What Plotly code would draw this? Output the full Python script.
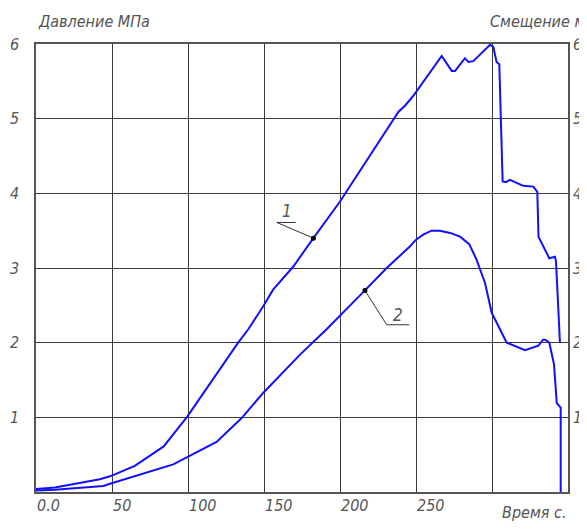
import plotly.graph_objects as go

# Curve 1 (pressure)
x1 = [0, 12.5, 42, 48.7, 65, 84, 99.5, 133, 139.7, 149.6, 156, 169.3, 182.5, 200, 238.4,
      243, 248, 266.9, 273.5, 275.7, 282.2, 284.4, 287.7, 298.7, 300.9, 303, 304.8, 305.7,
      307, 309.2, 311.8, 320.6, 327.2, 329.8, 330.6, 337.7, 341.4, 342.1, 344.7]
y1 = [0.04, 0.06, 0.17, 0.21, 0.35, 0.61, 1.01, 2.0, 2.18, 2.49, 2.71, 3.02, 3.40, 3.89, 5.09,
      5.18, 5.30, 5.84, 5.64, 5.64, 5.81, 5.76, 5.77, 5.99, 5.96, 5.76, 5.73, 5.03,
      4.16, 4.15, 4.18, 4.10, 4.09, 4.02, 3.42, 3.13, 3.15, 3.09, 2.0]

# Curve 2 (displacement)
x2 = [0, 12.5, 44.3, 48.7, 90.3, 118.8, 135.3, 149.6, 173.7, 191.2, 216.4, 230.7, 246.1,
      250, 255, 260.3, 265.8, 272.4, 279, 285, 289.9, 295.4, 299.8, 309.7, 321.7, 330.5,
      333.6, 334.9, 337.7, 340.8, 342.6, 345.2, 345.2]
y2 = [0.02, 0.03, 0.08, 0.11, 0.37, 0.67, 0.99, 1.33, 1.84, 2.18, 2.70, 3.00, 3.29,
      3.38, 3.45, 3.50, 3.50, 3.47, 3.42, 3.32, 3.11, 2.80, 2.40, 2.00, 1.90, 1.96,
      2.04, 2.04, 2.00, 1.71, 1.19, 1.13, 0.0]

x_ticks = [0, 50, 100, 150, 200, 250]
x_tick_labels = ["0.0", "50", "100", "150", "200", "250"]
y_ticks = [1, 2, 3, 4, 5, 6]
y_tick_labels = ["1", "2", "3", "4", "5", "6"]

# leader labels
lbl_text = ["1", "2"]
lbl_dot_x = [182.5, 216.4]
lbl_dot_y = [3.40, 2.70]
lbl_bend_x = [158.4, 230.7]
lbl_bend_y = [3.61, 2.24]
lbl_end_x = [170.9, 245.6]
lbl_txt_x = [164.9, 238.4]
lbl_txt_y = [3.76, 2.37]

FONT = "Liberation Sans Narrow, DejaVu Sans Condensed, Roboto, sans-serif"
TXT = "#555555"
GRID = "#3a3a3a"

fig = go.Figure()
fig.add_trace(go.Scatter(x=x1, y=y1, mode="lines", line=dict(color="#1010ff", width=2),
                         showlegend=False, hoverinfo="skip"))
fig.add_trace(go.Scatter(x=x2, y=y2, mode="lines", line=dict(color="#1010ff", width=2),
                         showlegend=False, hoverinfo="skip"))
fig.add_trace(go.Scatter(x=[None], y=[None], yaxis="y2", showlegend=False))

for i in range(len(lbl_text)):
    fig.add_trace(go.Scatter(x=[lbl_dot_x[i], lbl_bend_x[i], lbl_end_x[i]],
                             y=[lbl_dot_y[i], lbl_bend_y[i], lbl_bend_y[i]],
                             mode="lines", line=dict(color="#333333", width=1),
                             showlegend=False, hoverinfo="skip"))
    fig.add_trace(go.Scatter(x=[lbl_dot_x[i]], y=[lbl_dot_y[i]], mode="markers",
                             marker=dict(color="black", size=5),
                             showlegend=False, hoverinfo="skip"))

def f(size=16):
    return dict(family=FONT, size=size, color=TXT, style="italic")

annotations = []
for xv, t in zip(x_ticks, x_tick_labels):
    annotations.append(dict(x=xv, y=0, xref="x", yref="y", text=t, showarrow=False,
                            xanchor="left", yanchor="top", yshift=-2, xshift=-1, font=f()))
annotations.append(dict(x=1, y=0, xref="paper", yref="y", text="Время с.", showarrow=False,
                        xanchor="right", yanchor="top", yshift=-9, font=f()))
annotations.append(dict(x=0, y=1, xref="paper", yref="paper", text="Давление МПа",
                        showarrow=False, xanchor="left", yanchor="bottom", yshift=11, font=f()))
annotations.append(dict(x=(488 - 36) / (568 - 36), y=1, xref="paper", yref="paper",
                        text="Смещение мм", showarrow=False, xanchor="left",
                        yanchor="bottom", yshift=11, font=f()))
for i in range(len(lbl_text)):
    annotations.append(dict(x=lbl_txt_x[i], y=lbl_txt_y[i], xref="x", yref="y",
                            text=lbl_text[i], showarrow=False, font=f(17)))

# page body has an 8px default margin, so the figure is offset by 8px
fig.update_layout(
    width=579, height=521,
    margin=dict(l=28, r=19, t=36, b=37, autoexpand=False),
    paper_bgcolor="white", plot_bgcolor="white",
    annotations=annotations,
    xaxis=dict(range=[0, 350], tickvals=x_ticks + [300, 350], showticklabels=False,
               showgrid=True, gridcolor=GRID, gridwidth=1, zeroline=False,
               showline=True, linecolor="#555555", linewidth=1.5, mirror=True,
               ticks="", automargin=False),
    yaxis=dict(range=[0, 6], tickvals=y_ticks, ticktext=y_tick_labels,
               showgrid=True, gridcolor=GRID, gridwidth=1, zeroline=False,
               showline=True, linecolor="#555555", linewidth=1.5, mirror=True,
               ticks="", ticklabelstandoff=12, automargin=False, tickfont=f()),
    yaxis2=dict(range=[0, 6], tickvals=y_ticks, ticktext=y_tick_labels, overlaying="y",
                side="right", showgrid=False, zeroline=False, ticks="",
                ticklabelstandoff=4, automargin=False, tickfont=f()),
)

fig.write_html("out.html")
